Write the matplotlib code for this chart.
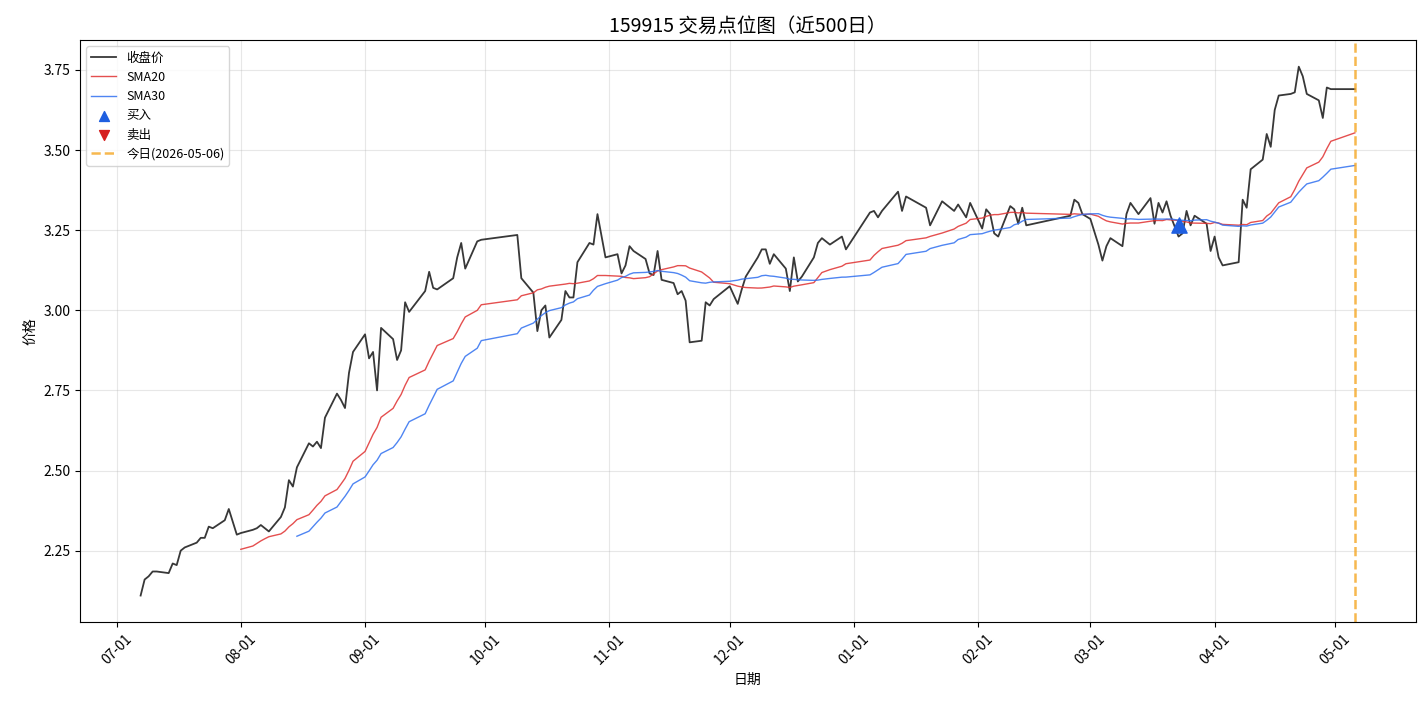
import matplotlib
matplotlib.use("Agg")
import matplotlib.pyplot as plt
import matplotlib.dates as mdates
import pandas as pd

plt.rcParams['font.family'] = ['Noto Sans CJK SC', 'DejaVu Sans']
plt.rcParams['axes.unicode_minus'] = False

# close prices (month-day, value); Jul-Dec 2025, Jan-May 2026
close_2025 = [
    ("07-07", 2.11), ("07-08", 2.16), ("07-09", 2.17), ("07-10", 2.185), ("07-11", 2.185),
    ("07-14", 2.18), ("07-15", 2.21), ("07-16", 2.205), ("07-17", 2.25), ("07-18", 2.26),
    ("07-21", 2.275), ("07-22", 2.29), ("07-23", 2.29), ("07-24", 2.325), ("07-25", 2.32),
    ("07-28", 2.345), ("07-29", 2.38), ("07-30", 2.34), ("07-31", 2.30), ("08-01", 2.305),
    ("08-04", 2.315), ("08-05", 2.32), ("08-06", 2.33), ("08-07", 2.32), ("08-08", 2.31),
    ("08-11", 2.355), ("08-12", 2.385), ("08-13", 2.47), ("08-14", 2.45), ("08-15", 2.51),
    ("08-18", 2.585), ("08-19", 2.575), ("08-20", 2.59), ("08-21", 2.57), ("08-22", 2.665),
    ("08-25", 2.74), ("08-26", 2.72), ("08-27", 2.695), ("08-28", 2.805), ("08-29", 2.87),
    ("09-01", 2.925), ("09-02", 2.85),
    ("09-03", 2.87), ("09-04", 2.75), ("09-05", 2.945), ("09-08", 2.91), ("09-09", 2.845),
    ("09-10", 2.875), ("09-11", 3.025), ("09-12", 2.995), ("09-16", 3.06), ("09-17", 3.12),
    ("09-18", 3.07), ("09-19", 3.065), ("09-23", 3.10), ("09-24", 3.165), ("09-25", 3.21),
    ("09-26", 3.13), ("09-29", 3.215), ("09-30", 3.22), ("10-09", 3.235), ("10-10", 3.10),
    ("10-13", 3.055), ("10-14", 2.935), ("10-15", 3.00), ("10-16", 3.015), ("10-17", 2.915),
    ("10-20", 2.97), ("10-21", 3.06), ("10-22", 3.04), ("10-23", 3.04), ("10-24", 3.15),
    ("10-27", 3.21), ("10-28", 3.205), ("10-29", 3.30), ("10-31", 3.165), ("11-03", 3.175),
    ("11-04", 3.115), ("11-05", 3.14), ("11-06", 3.20), ("11-07", 3.185), ("11-10", 3.16),
    ("11-11", 3.115), ("11-12", 3.11), ("11-13", 3.185), ("11-14", 3.095), ("11-17", 3.085),
    ("11-18", 3.05), ("11-19", 3.06), ("11-20", 3.03), ("11-21", 2.90), ("11-24", 2.905),
    ("11-25", 3.025), ("11-26", 3.015), ("11-27", 3.035), ("12-01", 3.075), ("12-03", 3.02),
    ("12-04", 3.065), ("12-05", 3.105), ("12-08", 3.165), ("12-09", 3.19), ("12-10", 3.19),
    ("12-11", 3.145), ("12-12", 3.175), ("12-15", 3.13), ("12-16", 3.06), ("12-17", 3.165),
    ("12-18", 3.09), ("12-19", 3.105), ("12-22", 3.165), ("12-23", 3.21), ("12-24", 3.225),
    ("12-26", 3.205), ("12-29", 3.23), ("12-30", 3.19),
]
close_2026 = [
    ("01-05", 3.305), ("01-06", 3.31), ("01-07", 3.29), ("01-08", 3.31), ("01-12", 3.37),
    ("01-13", 3.31), ("01-14", 3.355), ("01-19", 3.32), ("01-20", 3.265), ("01-23", 3.34),
    ("01-26", 3.31), ("01-27", 3.33), ("01-29", 3.29), ("01-30", 3.335), ("02-02", 3.255),
    ("02-03", 3.315), ("02-04", 3.30), ("02-05", 3.24), ("02-06", 3.23), ("02-09", 3.325),
    ("02-10", 3.315), ("02-11", 3.27), ("02-12", 3.32), ("02-13", 3.265), ("02-24", 3.295),
    ("02-25", 3.345), ("02-26", 3.335), ("02-27", 3.30), ("03-01", 3.285), ("03-03", 3.205),
    ("03-04", 3.155), ("03-05", 3.20), ("03-06", 3.225), ("03-09", 3.20), ("03-10", 3.30),
    ("03-11", 3.335), ("03-13", 3.30), ("03-16", 3.35), ("03-17", 3.27), ("03-18", 3.335),
    ("03-19", 3.305), ("03-20", 3.34), ("03-21", 3.295), ("03-23", 3.23), ("03-24", 3.24),
    ("03-25", 3.31), ("03-26", 3.265), ("03-27", 3.295), ("03-30", 3.27), ("03-31", 3.185),
    ("04-01", 3.23), ("04-02", 3.165), ("04-03", 3.14), ("04-07", 3.15), ("04-08", 3.345),
    ("04-09", 3.32), ("04-10", 3.44), ("04-13", 3.47), ("04-14", 3.55), ("04-15", 3.51),
    ("04-16", 3.625), ("04-17", 3.67), ("04-20", 3.675), ("04-21", 3.68), ("04-22", 3.76),
    ("04-23", 3.73), ("04-24", 3.675), ("04-27", 3.655), ("04-28", 3.60), ("04-29", 3.695),
    ("04-30", 3.69), ("05-06", 3.69),
]

buy_dates = ["2026-03-23"]
buy_prices = [3.267]
sell_dates = []
sell_prices = []
today = "2026-05-06"

dates = [pd.Timestamp("2025-" + d) for d, _ in close_2025] + [pd.Timestamp("2026-" + d) for d, _ in close_2026]
values = [v for _, v in close_2025] + [v for _, v in close_2026]
close = pd.Series(values, index=dates)
sma20 = close.rolling(20).mean()
sma30 = close.rolling(30).mean()

fig, ax = plt.subplots(figsize=(14.27, 7.06), dpi=100)
ax.plot(close.index, close.values, color='#222222', lw=1.3, alpha=0.9, label='收盘价')
ax.plot(sma20.index, sma20.values, color='#e03030', lw=1.0, alpha=0.85, label='SMA20')
ax.plot(sma30.index, sma30.values, color='#3070f0', lw=1.0, alpha=0.85, label='SMA30')
ax.scatter(pd.to_datetime(buy_dates), buy_prices, marker='^', s=120, color='#1f5fe0', zorder=5, label='买入')
ax.scatter(pd.to_datetime(sell_dates), sell_prices, marker='v', s=120, color='#d62020', zorder=5, label='卖出')
ax.axvline(pd.Timestamp(today), color='#f5a623', ls='--', lw=1.8, alpha=0.8, label=f'今日({today})')

ax.set_title('159915 交易点位图（近500日）', fontsize=14)
ax.set_xlabel('日期')
ax.set_ylabel('价格')
ax.xaxis.set_major_locator(mdates.MonthLocator())
ax.xaxis.set_major_formatter(mdates.DateFormatter('%m-%d'))
plt.setp(ax.get_xticklabels(), rotation=45)
ax.grid(True, alpha=0.3)
ax.legend(loc='upper left', fontsize=9, markerscale=0.65)
fig.subplots_adjust(left=0.056, right=0.992, top=0.943, bottom=0.119)
fig.savefig('out.png')
